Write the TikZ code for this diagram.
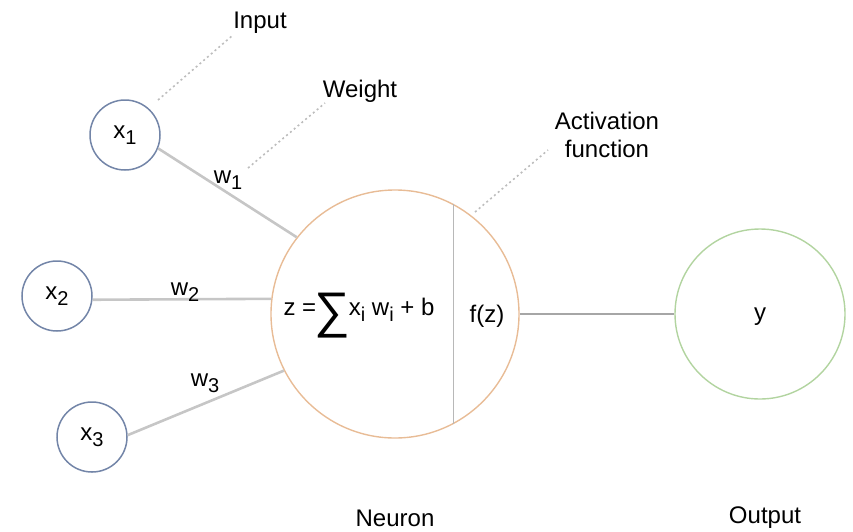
\documentclass[tikz,border=0pt]{standalone}
\usepackage{fontspec}
\setmainfont{Liberation Sans}
\definecolor{inblue}{HTML}{7385A8}
\definecolor{neuorange}{HTML}{E8BC96}
\definecolor{outgreen}{HTML}{B2D4A0}
\definecolor{wline}{HTML}{C6C6C6}
\definecolor{oline}{HTML}{A6A6A6}
\definecolor{annot}{HTML}{BDBDBD}
\newcommand\sbs[1]{\raisebox{-6pt}{\fontsize{20}{20}\selectfont #1}}
\begin{document}
\begin{tikzpicture}[x=1pt,y=-1pt,
  every node/.style={font=\fontsize{24}{28}\selectfont, text=black},
  incircle/.style={circle, draw=inblue, line width=1.5pt, minimum size=70pt, inner sep=0pt},
  neucircle/.style={circle, draw=neuorange, line width=1.4pt, minimum size=248pt, inner sep=0pt},
  outcircle/.style={circle, draw=outgreen, line width=1.4pt, minimum size=170pt, inner sep=0pt},
  wconn/.style={draw=wline, line width=2.6pt},
  oconn/.style={draw=oline, line width=1.8pt},
  annotline/.style={draw=annot, line width=1.6pt, dash pattern=on 2pt off 3pt},
  lbl/.style={inner sep=1pt}]
\useasboundingbox (0,0) rectangle (853,531);

\node[incircle] (x1) at (125,135) {x\sbs{1}};
\node[incircle] (x2) at (57,296) {x\sbs{2}};
\node[incircle] (x3) at (92,437) {x\sbs{3}};
\node[neucircle] (neuron) at (395,314) {};
\node[outcircle] (out) at (760,314) {};
\node[lbl] (ylbl) at (760,317) {y};

% inner content of neuron
\node[lbl] (formula) at (359,316) {z =\kern-2pt\raisebox{-12.5pt}{\fontsize{50}{50}\selectfont ∑}\kern-1pt x\sbs{i} w\sbs{i} + b};
\node[lbl] (fz) at (487,316) {f(z)};
\draw[draw=oline!80, line width=1.6pt] (neuron.62.6) -- (neuron.-62.6);

% connectors
\draw[wconn] (x1.-22) -- (neuron.142.6);
\draw[wconn] (x2.-6) -- (neuron.173.5);
\draw[wconn] (x3.3) -- (neuron.207);
\draw[oconn] (neuron.east) -- (out.west);

% weight labels
\node[lbl] (w1) at (228,180) {w\sbs{1}};
\node[lbl] (w2) at (185,292) {w\sbs{2}};
\node[lbl] (w3) at (205,383) {w\sbs{3}};

% annotations
\node[lbl] (input) at (260,23) {Input};
\node[lbl] (weight) at (360,91) {Weight};
\node[lbl, align=center] (act) at (607,135) {Activation\\function};
\node[lbl] (neulbl) at (395,518) {Neuron};
\node[lbl] (outlbl) at (765,518) {Output};

\coordinate (inA) at (158,100);
\coordinate (inB) at (233,35);
\coordinate (wA) at (248,168);
\coordinate (wB) at (325,103);
\coordinate (aA) at (475,212);
\coordinate (aB) at (548,150);
\draw[annotline] (inA) -- (inB);
\draw[annotline] (wA) -- (wB);
\draw[annotline] (aA) -- (aB);
\end{tikzpicture}
\end{document}
